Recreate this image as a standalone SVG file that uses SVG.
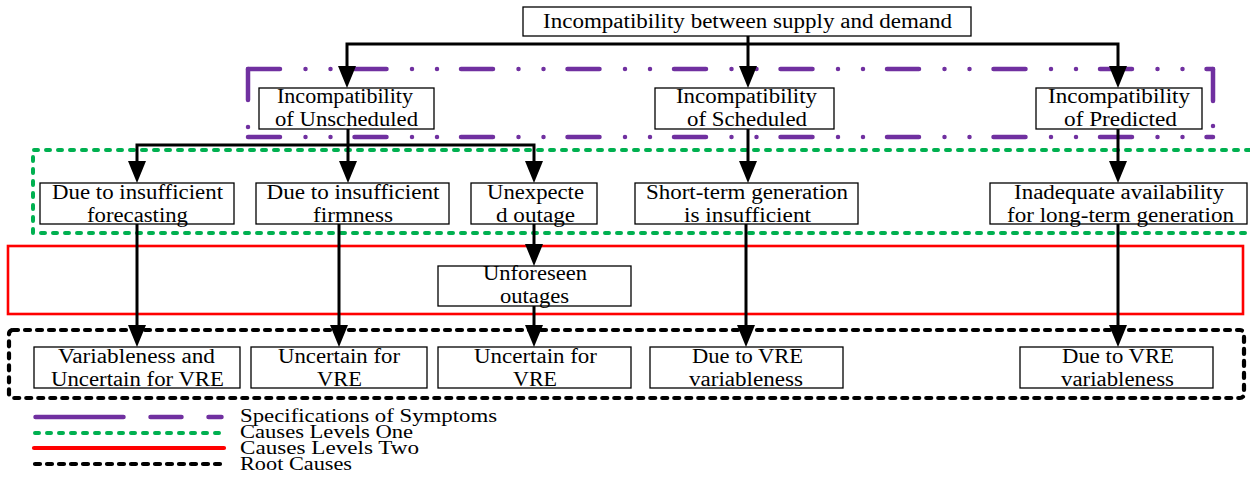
<svg xmlns="http://www.w3.org/2000/svg" width="1250" height="478" viewBox="0 0 1250 478">
<style>
.bg{fill:#fff}
.box{fill:#fff;stroke:#000;stroke-width:1.3}
.t{font-family:"Liberation Serif","Times New Roman",serif;font-size:20px;fill:#000;text-anchor:middle}
.lg{font-family:"Liberation Serif","Times New Roman",serif;font-size:18px;fill:#000}
.c{fill:none;stroke:#000;stroke-width:3;stroke-linejoin:miter}
.pur{fill:none;stroke:#7030A0;stroke-width:4.5;stroke-linecap:round}
.pd{stroke-dasharray:32 25.5 0 25 0 24}
.grn{fill:none;stroke:#00B050;stroke-width:4;stroke-linecap:round;stroke-dasharray:4 8}
.red{fill:none;stroke:#FF0000;stroke-width:2.6}
.blk{fill:none;stroke:#000;stroke-width:4.2;stroke-linecap:round;stroke-dasharray:5 7}
</style>
<defs>
<marker id="ah" viewBox="0 0 22 18" refX="0" refY="9" markerWidth="22" markerHeight="18" markerUnits="userSpaceOnUse" orient="auto">
<path d="M0,0 L22,9 L0,18 Z" fill="#000"/>
</marker>
</defs>
<rect class="bg" x="0" y="0" width="1250" height="478"/>

<g id="frames">
<g id="frame-symptoms">
<line class="pur pd" x1="248" y1="69" x2="1213" y2="69"/>
<line class="pur pd" x1="248" y1="137" x2="1213" y2="137"/>
<line class="pur" x1="248" y1="69" x2="248" y2="137" style="stroke-dasharray:31 27 0 100"/>
<line class="pur" x1="1213" y1="69" x2="1213" y2="137" style="stroke-dasharray:32 25 0 100"/>
</g>
<path id="frame-causes-one" class="grn" d="M1262,150 H33 V233 H1262"/>
<rect id="frame-causes-two" class="red" x="8" y="246" width="1235" height="68"/>
<rect id="frame-root" class="blk" x="9" y="330" width="1235" height="68" rx="4"/>
</g>

<g id="connectors">
<path class="c" d="M748,36 V66" marker-end="url(#ah)"/>
<path class="c" d="M748,44 H347 V66" marker-end="url(#ah)"/>
<path class="c" d="M748,44 H1118 V66" marker-end="url(#ah)"/>
<path class="c" d="M348,129 V161" marker-end="url(#ah)"/>
<path class="c" d="M348,145 H137 V161" marker-end="url(#ah)"/>
<path class="c" d="M348,145 H534 V161" marker-end="url(#ah)"/>
<path class="c" d="M748,129 V161" marker-end="url(#ah)"/>
<path class="c" d="M1118,129 V161" marker-end="url(#ah)"/>
<path class="c" d="M534,224 V244" marker-end="url(#ah)"/>
<path class="c" d="M137,224 V325" marker-end="url(#ah)"/>
<path class="c" d="M339,224 V325" marker-end="url(#ah)"/>
<path class="c" d="M534,306 V325" marker-end="url(#ah)"/>
<path class="c" d="M746,224 V325" marker-end="url(#ah)"/>
<path class="c" d="M1118,224 V325" marker-end="url(#ah)"/>
</g>

<g id="n-top">
<rect class="box" x="523" y="7" width="448" height="29"/>
<text class="t" x="747.5" y="28" font-size="21" textLength="409" lengthAdjust="spacingAndGlyphs">Incompatibility between supply and demand</text>
</g>

<g id="n-unscheduled">
<rect class="box" x="259" y="88" width="175" height="41"/>
<text class="t" x="345" y="103" textLength="136" lengthAdjust="spacingAndGlyphs">Incompatibility</text>
<text class="t" x="346.5" y="126" textLength="143" lengthAdjust="spacingAndGlyphs">of Unscheduled</text>
</g>
<g id="n-scheduled">
<rect class="box" x="655" y="88" width="179" height="41"/>
<text class="t" x="746.5" y="103" textLength="141" lengthAdjust="spacingAndGlyphs">Incompatibility</text>
<text class="t" x="747" y="126" textLength="120" lengthAdjust="spacingAndGlyphs">of Scheduled</text>
</g>
<g id="n-predicted">
<rect class="box" x="1036" y="88" width="166" height="41"/>
<text class="t" x="1119" y="103" textLength="142" lengthAdjust="spacingAndGlyphs">Incompatibility</text>
<text class="t" x="1120.5" y="126" textLength="113" lengthAdjust="spacingAndGlyphs">of Predicted</text>
</g>

<g id="n-forecasting">
<rect class="box" x="40" y="183" width="194" height="41"/>
<text class="t" x="137.5" y="199" textLength="171" lengthAdjust="spacingAndGlyphs">Due to insufficient</text>
<text class="t" x="137.5" y="222" textLength="101" lengthAdjust="spacingAndGlyphs">forecasting</text>
</g>
<g id="n-firmness">
<rect class="box" x="256" y="183" width="193" height="41"/>
<text class="t" x="353" y="199" textLength="173" lengthAdjust="spacingAndGlyphs">Due to insufficient</text>
<text class="t" x="353" y="222" textLength="80" lengthAdjust="spacingAndGlyphs">firmness</text>
</g>
<g id="n-unexpected">
<rect class="box" x="471" y="183" width="126" height="41"/>
<text class="t" x="535.5" y="199" textLength="97" lengthAdjust="spacingAndGlyphs">Unexpecte</text>
<text class="t" x="535.5" y="222" textLength="79" lengthAdjust="spacingAndGlyphs">d outage</text>
</g>
<g id="n-shortterm">
<rect class="box" x="635" y="183" width="223" height="41"/>
<text class="t" x="747" y="199" textLength="202" lengthAdjust="spacingAndGlyphs">Short-term generation</text>
<text class="t" x="747.5" y="222" textLength="127" lengthAdjust="spacingAndGlyphs">is insufficient</text>
</g>
<g id="n-inadequate">
<rect class="box" x="990" y="183" width="257" height="41"/>
<text class="t" x="1119" y="199" textLength="210" lengthAdjust="spacingAndGlyphs">Inadequate availability</text>
<text class="t" x="1120.5" y="222" textLength="227" lengthAdjust="spacingAndGlyphs">for long-term generation</text>
</g>

<g id="n-unforeseen">
<rect class="box" x="438" y="266" width="193" height="40"/>
<text class="t" x="535" y="280" textLength="104" lengthAdjust="spacingAndGlyphs">Unforeseen</text>
<text class="t" x="534.5" y="303" textLength="69" lengthAdjust="spacingAndGlyphs">outages</text>
</g>

<g id="n-variableness">
<rect class="box" x="34" y="347" width="206" height="41"/>
<text class="t" x="136.5" y="363" textLength="157" lengthAdjust="spacingAndGlyphs">Variableness and</text>
<text class="t" x="137.5" y="386" textLength="173" lengthAdjust="spacingAndGlyphs">Uncertain for VRE</text>
</g>
<g id="n-uncertain1">
<rect class="box" x="251" y="347" width="176" height="41"/>
<text class="t" x="339" y="363" textLength="122" lengthAdjust="spacingAndGlyphs">Uncertain for</text>
<text class="t" x="339.5" y="386" textLength="45" lengthAdjust="spacingAndGlyphs">VRE</text>
</g>
<g id="n-uncertain2">
<rect class="box" x="438" y="347" width="193" height="41"/>
<text class="t" x="535.5" y="363" textLength="123" lengthAdjust="spacingAndGlyphs">Uncertain for</text>
<text class="t" x="535" y="386" textLength="44" lengthAdjust="spacingAndGlyphs">VRE</text>
</g>
<g id="n-vre1">
<rect class="box" x="650" y="347" width="193" height="41"/>
<text class="t" x="747.5" y="363" textLength="111" lengthAdjust="spacingAndGlyphs">Due to VRE</text>
<text class="t" x="746" y="386" textLength="114" lengthAdjust="spacingAndGlyphs">variableness</text>
</g>
<g id="n-vre2">
<rect class="box" x="1020" y="347" width="193" height="41"/>
<text class="t" x="1118" y="363" textLength="112" lengthAdjust="spacingAndGlyphs">Due to VRE</text>
<text class="t" x="1117.5" y="386" textLength="113" lengthAdjust="spacingAndGlyphs">variableness</text>
</g>

<g id="legend">
<line class="pur" x1="35.5" y1="417" x2="221.5" y2="417" style="stroke-dasharray:88 27 31 27 13"/>
<line class="grn" x1="35" y1="433" x2="223" y2="433"/>
<line x1="34" y1="448" x2="224" y2="448" stroke="#FF0000" stroke-width="4.2" stroke-linecap="round"/>
<line class="blk" x1="35" y1="464" x2="223" y2="464"/>
<text class="lg" x="240" y="422" textLength="257" lengthAdjust="spacingAndGlyphs">Specifications of Symptoms</text>
<text class="lg" x="240" y="438" textLength="173" lengthAdjust="spacingAndGlyphs">Causes Levels One</text>
<text class="lg" x="240" y="454" textLength="179" lengthAdjust="spacingAndGlyphs">Causes Levels Two</text>
<text class="lg" x="240" y="470" textLength="112" lengthAdjust="spacingAndGlyphs">Root Causes</text>
</g>
</svg>
